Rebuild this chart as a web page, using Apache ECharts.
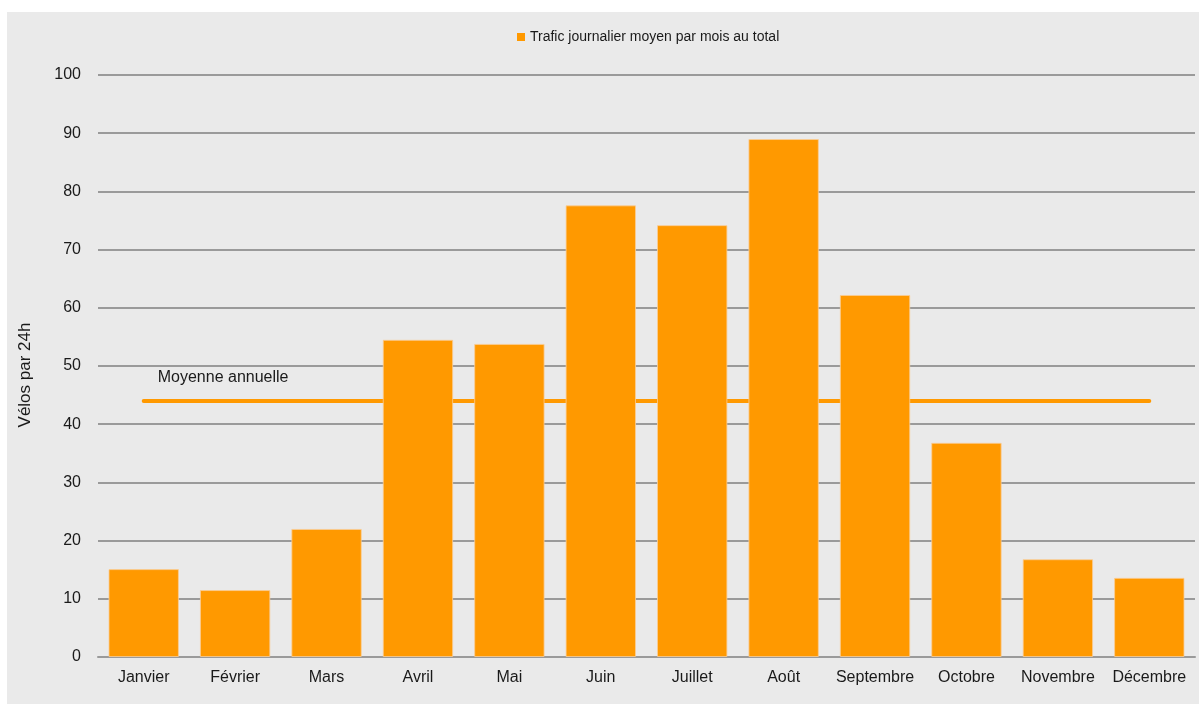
<!DOCTYPE html>
<html>
<head>
<meta charset="utf-8">
<script src="https://cdn.jsdelivr.net/npm/echarts@6/dist/echarts.min.js"></script>
<style>
html,body{margin:0;padding:0;background:#ffffff;}
#c{width:1199px;height:704px;}
</style>
</head>
<body>
<div id="c"></div>
<script>
const months = ['Janvier','Février','Mars','Avril','Mai','Juin','Juillet','Août','Septembre','Octobre','Novembre','Décembre'];
const trafic = [15.1, 11.5, 22.0, 54.5, 53.8, 77.6, 74.2, 89.0, 62.2, 36.8, 16.8, 13.6];
const moyenne = [44, 44, 44, 44, 44, 44, 44, 44, 44, 44, 44, 44];
const seriesName = 'Trafic journalier moyen par mois au total';
const avgLabel = 'Moyenne annuelle';
const yName = 'Vélos par 24h';

const FONT = '"Liberation Sans", Arial, sans-serif';
const chart = echarts.init(document.getElementById('c'), null, {renderer: 'canvas'});
chart.setOption({
  animation: false,
  backgroundColor: '#ffffff',
  textStyle: {fontFamily: FONT},
  graphic: [{
    type: 'rect', z: -10, silent: true,
    shape: {x: 7, y: 12, width: 1192, height: 692},
    style: {fill: '#EAEAEA'}
  }],
  legend: {
    data: [seriesName],
    top: 25, left: 512,
    icon: 'rect', itemWidth: 8, itemHeight: 8,
    itemStyle: {borderWidth: 0, color: '#FF9900'},
    textStyle: {fontSize: 14, color: '#1a1a1a', fontFamily: FONT}
  },
  grid: {left: 98, right: 4, top: 75, bottom: 47, containLabel: false},
  xAxis: {
    type: 'category', data: months,
    axisLine: {lineStyle: {color: '#9a9a9a', width: 2}},
    axisTick: {show: false},
    axisLabel: {fontSize: 16, color: '#1a1a1a', margin: 13, fontFamily: FONT, interval: 0}
  },
  yAxis: {
    type: 'value', min: 0, max: 100, interval: 10,
    name: yName, nameLocation: 'middle', nameGap: 64, nameRotate: 90,
    nameTextStyle: {fontSize: 17, color: '#1a1a1a', fontFamily: FONT, padding: [0, 18, 0, 0]},
    axisLine: {show: false}, axisTick: {show: false},
    axisLabel: {fontSize: 16, color: '#1a1a1a', margin: 17, fontFamily: FONT},
    splitLine: {lineStyle: {color: '#9a9a9a', width: 2}}
  },
  series: [
    {
      name: seriesName, type: 'bar', data: trafic, z: 3,
      barCategoryGap: '23%',
      itemStyle: {color: '#FF9900', borderColor: 'rgba(250,205,150,0.8)', borderWidth: 1}
    },
    {
      name: avgLabel, type: 'line', data: moyenne.map((v, i) => i === 0 ? {
        value: v,
        label: {show: true, position: 'right', offset: [9, -23], formatter: avgLabel,
                fontSize: 16, color: '#1a1a1a', fontFamily: FONT}
      } : v),
      z: 1, symbol: 'circle', symbolSize: 0.01, showSymbol: true,
      lineStyle: {color: '#FF9900', width: 4, cap: 'round'},
      itemStyle: {color: '#FF9900'}
    }
  ]
});
</script>
</body>
</html>
